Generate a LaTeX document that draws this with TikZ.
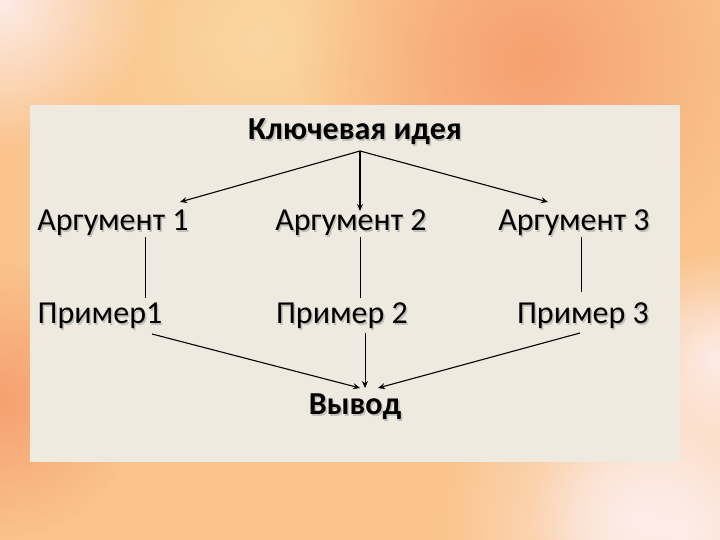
\documentclass[tikz,border=0pt]{standalone}
\usepackage{fontspec}
\setmainfont{Carlito}
\usetikzlibrary{fadings,arrows.meta}
\tikzfading[name=softblob, inner color=transparent!0, outer color=transparent!100]
\definecolor{panel}{RGB}{238,234,224}
\definecolor{bgorange}{RGB}{250,196,140}
\definecolor{salmon}{RGB}{246,160,112}
\definecolor{pinkwhite}{RGB}{253,236,232}
\definecolor{paleyellow}{RGB}{251,214,160}
\definecolor{shadowgray}{RGB}{150,150,150}
\tikzset{
  lbl/.style={font=\fontsize{32}{34}\selectfont, inner sep=0pt, anchor=center},
  blbl/.style={font=\fontsize{32}{34}\selectfont\bfseries, inner sep=0pt, anchor=center},
  arr/.style={-{Stealth[length=7pt,width=6pt]}, line width=1.1pt},
  thinline/.style={line width=0.7pt},
}
\newcommand{\shtext}[4]{%
  \node[#1, text=shadowgray, opacity=0.5] at ([xshift=1.5pt,yshift=-1.5pt]#3) {#4};
  \node[#1] (#2) at (#3) {#4};}
\begin{document}
\begin{tikzpicture}[x=1pt,y=-1pt]
\useasboundingbox (0,0) rectangle (720,540);
% background
\fill[bgorange] (0,0) rectangle (720,540);
\fill[paleyellow, path fading=softblob] (260,40) circle (200);
\fill[salmon, path fading=softblob] (530,60) circle (230);
\fill[salmon, path fading=softblob] (0,400) circle (140);
\fill[pinkwhite, path fading=softblob] (0,0) circle (150);
\fill[pinkwhite, path fading=softblob] (680,530) circle (240);
\fill[pinkwhite, path fading=softblob] (640,520) circle (110);
\fill[pinkwhite, path fading=softblob] (720,360) circle (110);
% panel
\fill[panel] (30,105) rectangle (680,462);
% texts
\shtext{blbl}{key}{355,132}{Ключевая идея}
\shtext{lbl}{a1}{113,223}{Аргумент 1}
\shtext{lbl}{a2}{351,223}{Аргумент 2}
\shtext{lbl}{a3}{574,223}{Аргумент 3}
\shtext{lbl}{p1}{100,316}{Пример1}
\shtext{lbl}{p2}{342,316}{Пример 2}
\shtext{lbl}{p3}{583,316}{Пример 3}
\shtext{blbl}{out}{355,407}{Вывод}
% connector points
\coordinate (top) at (360,151);
\coordinate (a1t) at (180,202);
\coordinate (a2t) at (360,211);
\coordinate (a3t) at (548,202);
\coordinate (a1b) at (145,237);
\coordinate (a2b) at (360,237);
\coordinate (a3b) at (581,237);
\coordinate (p1t) at (145,298);
\coordinate (p2t) at (360,298);
\coordinate (p3t) at (581,292);
\coordinate (p1b) at (152,334);
\coordinate (p2b) at (365,333);
\coordinate (p3b) at (580,333);
\coordinate (o1) at (360,388);
\coordinate (o2) at (365,388);
\coordinate (o3) at (378,388);
% connectors
\draw[arr] (top) -- (a1t);
\draw[arr] (top) -- (a2t);
\draw[arr] (top) -- (a3t);
\draw[thinline] (a1b) -- (p1t);
\draw[thinline] (a2b) -- (p2t);
\draw[thinline] (a3b) -- (p3t);
\draw[arr] (p1b) -- (o1);
\draw[arr, line width=0.7pt] (p2b) -- (o2);
\draw[arr] (p3b) -- (o3);
\end{tikzpicture}
\end{document}
